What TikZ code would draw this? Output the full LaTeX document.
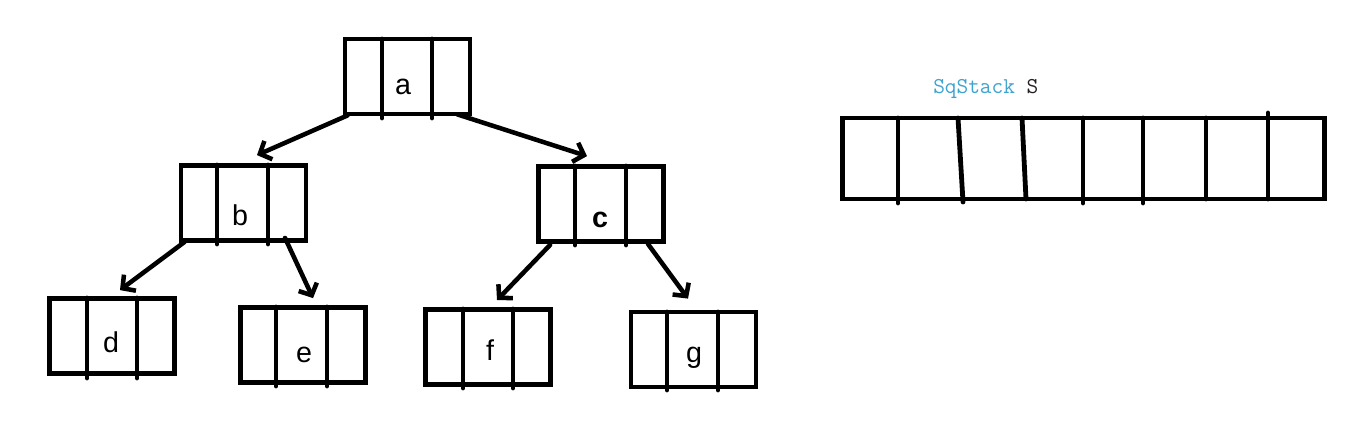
\documentclass[tikz,border=0pt]{standalone}
\usepackage{fontspec}
\setmainfont{Liberation Sans}
\usetikzlibrary{arrows.meta,calc}
\definecolor{sqblue}{HTML}{3DA3CF}
\definecolor{sqdark}{HTML}{262020}
\tikzset{
  cellbox/.style={draw, line width=3.6pt, inner sep=0pt, minimum width=93.75pt, minimum height=56.25pt},
  divider/.style={line width=3.6pt, line cap=round},
  letter/.style={inner sep=0pt, font=\fontsize{21.5}{24}\selectfont},
  link/.style={line width=3.4pt, line cap=round, -{Straight Barb[length=7pt,width=15pt,line width=3.4pt]}}
}
\begin{document}
\begin{tikzpicture}[x=0.75pt,y=-0.75pt]
\useasboundingbox (0,0) rectangle (1362,429);
% tree boxes
\node[cellbox] (a) at (407.5,76.5) {};
\node[cellbox] (b) at (243.5,203) {};
\node[cellbox] (c) at (601,204) {};
\node[cellbox] (d) at (112,336) {};
\node[cellbox] (e) at (303,345) {};
\node[cellbox] (f) at (488,347) {};
\node[cellbox] (g) at (693.5,349.5) {};
% dividers
\draw[divider] (382,39) -- (382,118); \draw[divider] (432,39) -- (432,118);
\draw[divider] (217,165) -- (217,244); \draw[divider] (268,165) -- (268,244);
\draw[divider] (575,166) -- (575,245); \draw[divider] (626,166) -- (626,245);
\draw[divider] (87,298) -- (87,378); \draw[divider] (137,298) -- (137,378);
\draw[divider] (276,307) -- (276,386); \draw[divider] (327,307) -- (327,386);
\draw[divider] (463,309) -- (463,388); \draw[divider] (513,309) -- (513,388);
\draw[divider] (667,312) -- (667,390); \draw[divider] (718,312) -- (718,390);
% letters
\node[letter] (la) at (403,87) {a};
\node[letter] (lb) at (240,215) {b};
\node[letter] (lc) at (600,220) {\bfseries c};
\node[letter] (ld) at (111,342) {d};
\node[letter] (le) at (304,355) {e};
\node[letter] (lf) at (490,350) {f};
\node[letter] (lg) at (694,358) {g};
% arrows
\draw[link] ($(a.south west)+(5,-1)$) -- ($(b.north)+(13.5,-8)$);
\draw[link] ($(a.south east)+(-15,-2)$) -- ($(c.north)+(-14,-8)$);
\draw[link] ($(b.south west)+(6,-1)$) -- ($(d.north)+(8,-6)$);
\draw[link] ($(b.south)+(41.5,-5)$) -- ($(e.north)+(10,-7)$);
\draw[link] ($(c.south west)+(14,1)$) -- ($(f.north)+(9,-7)$);
\draw[link] ($(c.south east)+(-18,0)$) -- ($(g.north)+(-5.5,-11)$);
% stack
\node[cellbox, minimum width=361.5pt, minimum height=60.75pt] (s) at (1083.5,158.5) {};
\draw[divider] (898,118) -- (898,203);
\draw[divider] (958,118) -- (963,202);
\draw[divider] (1022,118) -- (1026,199);
\draw[divider] (1083,118) -- (1083,203);
\draw[divider] (1143,118) -- (1143,203);
\draw[divider] (1206,118) -- (1206,199);
\draw[divider] (1268,113) -- (1268,199);
\node[anchor=base west, inner sep=0pt, font=\ttfamily\fontsize{17}{20}\selectfont] (title) at (933,93) {\textcolor{sqblue}{SqStack} \textcolor{sqdark}{S}};
\end{tikzpicture}
\end{document}
